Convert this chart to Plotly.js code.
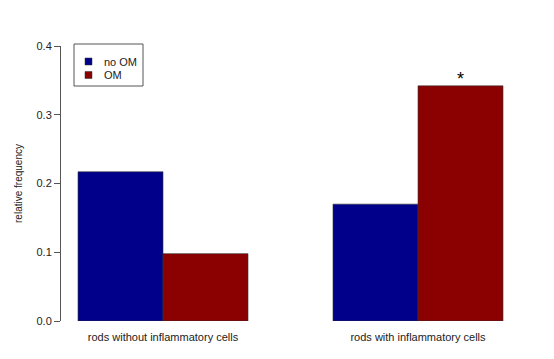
<!DOCTYPE html>
<html>
<head>
<meta charset="utf-8">
<script src="https://cdn.plot.ly/plotly-3.0.1.min.js"></script>
<style>html,body{margin:0;padding:0;background:#fff;}#chart{width:554px;height:359px;}</style>
</head>
<body>
<div id="chart"></div>
<script>
const categories = ["rods without inflammatory cells", "rods with inflammatory cells"];
const seriesNames = ["no OM", "OM"];
const noOM = [0.217, 0.170];
const OM = [0.098, 0.342];
const yTicks = [0, 0.1, 0.2, 0.3, 0.4];
const yTickLabels = ["0.0", "0.1", "0.2", "0.3", "0.4"];
const sigMarks = [{cat: 1, series: 1, text: "*"}];

const colors = ["#00008B", "#8B0000"];
const seriesVals = [noOM, OM];
const W = 554, H = 359;
const M = {l: 61, r: 34, t: 46, b: 38};
const pw = W - M.l - M.r, ph = H - M.t - M.b;
const px = x => (x - M.l) / pw;
const py = y => (H - M.b - y) / ph;

const traces = seriesNames.map((n, i) => ({
  type: "bar",
  name: n,
  x: categories,
  y: seriesVals[i],
  marker: {color: colors[i], line: {color: "#333", width: 0.6}},
  hoverinfo: "none",
  showlegend: false
}));

const annotations = sigMarks.map(s => ({
  x: categories[s.cat],
  y: seriesVals[s.series][s.cat],
  xref: "x", yref: "y",
  text: s.text,
  showarrow: false,
  xshift: s.series === 1 ? 42.5 : -42.5,
  yanchor: "bottom",
  yshift: -5,
  font: {size: 18, color: "#000", family: "Liberation Sans, Arial, sans-serif"}
}));

// custom legend (R style)
const shapes = [{
  type: "rect", xref: "paper", yref: "paper",
  x0: px(74), x1: px(143), y0: py(86), y1: py(44),
  line: {color: "#555", width: 1}, fillcolor: "#fff", layer: "above"
}];
seriesNames.forEach((n, i) => {
  const cy = 61.5 + i * 13.5;
  shapes.push({
    type: "rect", xref: "paper", yref: "paper",
    x0: px(85), x1: px(92), y0: py(cy + 3.5), y1: py(cy - 3.5),
    line: {color: "#333", width: 0.5}, fillcolor: colors[i], layer: "above"
  });
  annotations.push({
    xref: "paper", yref: "paper", x: px(102), y: py(cy),
    xanchor: "left", yanchor: "middle", showarrow: false,
    text: n, font: {size: 11, color: "#222"}
  });
});

const layout = {
  width: W, height: H,
  margin: M,
  paper_bgcolor: "#fff", plot_bgcolor: "#fff",
  font: {family: "Liberation Sans, Arial, sans-serif", size: 11, color: "#222"},
  barmode: "group",
  bargap: 1/3,
  bargroupgap: 0,
  showlegend: false,
  xaxis: {
    type: "category",
    range: [-0.4, 1.4],
    showline: false, showgrid: false, zeroline: false,
    ticks: "", tickfont: {size: 11, color: "#222"},
    ticklabelstandoff: 8,
    fixedrange: true
  },
  yaxis: {
    range: [0, 0.4],
    tickvals: yTicks, ticktext: yTickLabels,
    showline: true, linecolor: "#555", linewidth: 1,
    ticks: "outside", ticklen: 6, tickcolor: "#555",
    showgrid: false, zeroline: false,
    tickfont: {size: 11, color: "#222"},
    title: {text: "relative frequency", font: {size: 10, color: "#222"}, standoff: 12},
    fixedrange: true
  },
  shapes: shapes,
  annotations: annotations
};

Plotly.newPlot("chart", traces, layout, {displayModeBar: false, staticPlot: true});
</script>
</body>
</html>
